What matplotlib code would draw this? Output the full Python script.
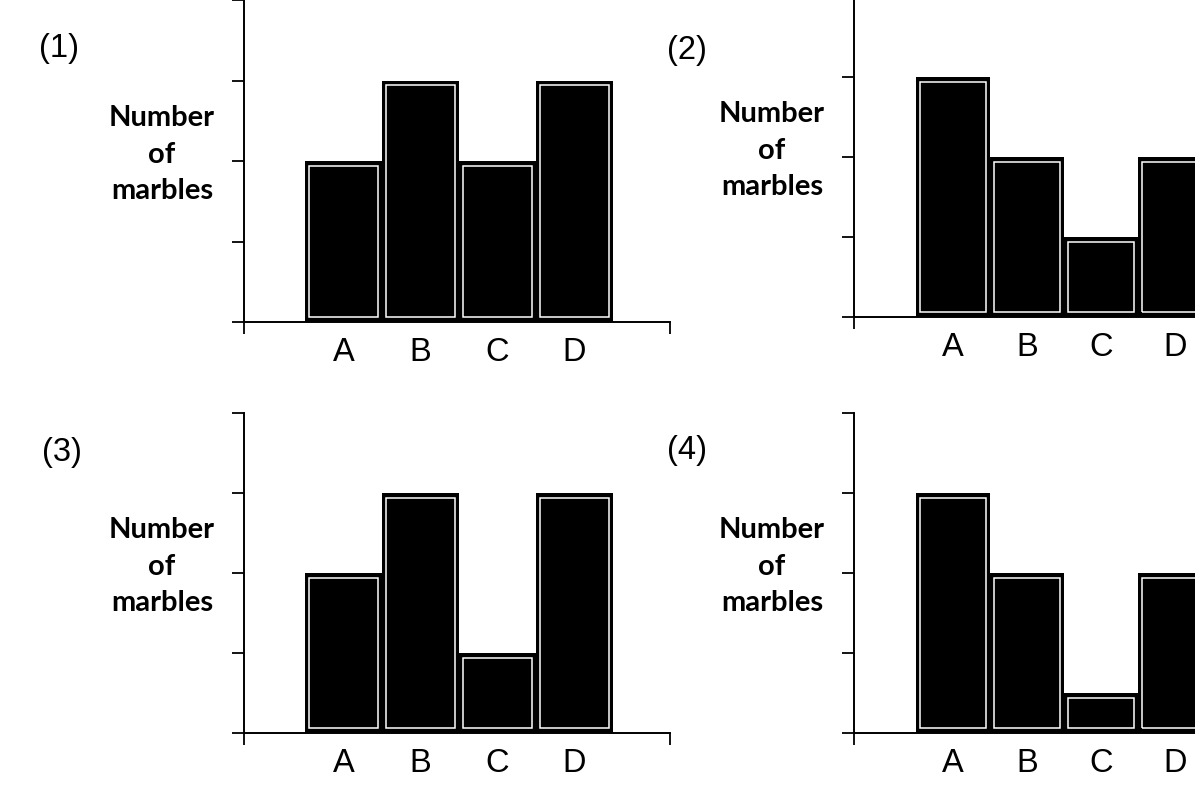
import matplotlib
matplotlib.use("Agg")
import matplotlib.pyplot as plt

W, H = 1195, 791

categories = ["A", "B", "C", "D"]
marbles_1 = [2, 3, 2, 3]
marbles_2 = [3, 2, 1, 2]
marbles_3 = [2, 3, 1, 3]
marbles_4 = [3, 2, 0.5, 2]
panel_labels = ["(1)", "(2)", "(3)", "(4)"]
ylabel = "Number\nof\nmarbles"

# axes boxes in pixels: left, baseline (from top), width, height
boxes = [(244, 322, 426, 322),
         (854, 317, 426, 320),
         (244, 733, 426, 320),
         (854, 733, 426, 320)]
xlims = [(-1.29, 4.24), (-1.34, 4.42), (-1.29, 4.24), (-1.34, 4.42)]
label_pos = [(59, 49), (687, 50), (62, 452), (687, 450)]

# inset of the thin white line inside each bar (data units)
inset_x = 0.055
inset_y = 0.06

fig = plt.figure(figsize=(W / 100, H / 100), dpi=100)
fig.patch.set_facecolor("white")

for i, vals in enumerate([marbles_1, marbles_2, marbles_3, marbles_4]):
    left, base, w, h = boxes[i]
    ax = fig.add_axes([left / W, (H - base) / H, w / W, h / H])
    x = list(range(len(categories)))
    ax.bar(x, vals, width=1.0, color="black", linewidth=0, zorder=2)
    # white line just inside the black border
    ax.bar(x, [v - 2 * inset_y for v in vals], bottom=inset_y,
           width=1.0 - 2 * inset_x, fill=False, edgecolor="white",
           linewidth=1.1, zorder=2.5)

    x0, x1 = xlims[i]
    ax.set_xlim(x0, x1)
    ax.set_ylim(0, 4)
    for s in ["top", "right"]:
        ax.spines[s].set_visible(False)
    for s in ["left", "bottom"]:
        ax.spines[s].set_linewidth(1.4)
        ax.spines[s].set_zorder(3)

    ax.set_yticks([0, 1, 2, 3, 4])
    ax.set_yticklabels([])
    ax.tick_params(axis="y", direction="out", length=8.5, width=1.3)

    ax.set_xticks(x)
    ax.set_xticklabels(categories, fontsize=23.5, family="Liberation Sans")
    ax.tick_params(axis="x", which="major", length=0, pad=10.5)
    ax.set_xticks([x0, x1], minor=True)
    ax.tick_params(axis="x", which="minor", direction="out", length=8.5, width=1.3)

    ax.text(-82 / w, 0.52, ylabel, transform=ax.transAxes, ha="center",
            va="center", fontsize=21, fontweight="bold", family="Lato",
            linespacing=1.5)

    lx, ly = label_pos[i]
    fig.text(lx / W, 1 - ly / H, panel_labels[i], ha="center", va="center",
             fontsize=23.5, family="Liberation Sans")

fig.savefig("out.png", dpi=100)
